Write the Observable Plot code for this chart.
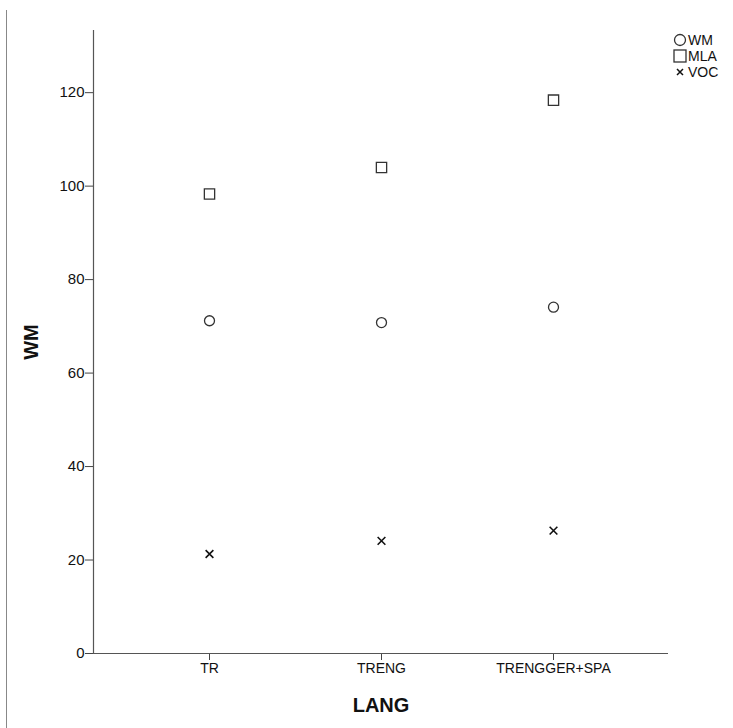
<!DOCTYPE html>
<html>
<head>
<meta charset="utf-8">
<script src="https://cdn.jsdelivr.net/npm/d3@7"></script>
<script src="https://cdn.jsdelivr.net/npm/@observablehq/plot@0.6"></script>
<style>
  html, body { margin: 0; padding: 0; background: #fff; }
  #wrap { position: relative; width: 733px; height: 728px; overflow: hidden; }
  #border { position: absolute; left: 6px; top: 10px; width: 0; height: 718px; border-left: 1px solid #888; }
  #legend { position: absolute; left: 673px; top: 32px; font-family: "Liberation Sans", Arial, sans-serif; font-size: 14px; color: #111; line-height: 16px; }
  #legend div { display: flex; align-items: center; height: 16px; }
  #legend svg { margin-right: 1px; }
</style>
</head>
<body>
<div id="wrap">
  <div id="border"></div>
  <div id="chart"></div>
  <div id="legend"></div>
</div>
<script>
const categories = ["TR", "TRENG", "TRENGGER+SPA"];
const wm  = [71.2, 70.8, 74.1];
const mla = [98.3, 104.0, 118.4];
const voc = [21.3, 24.1, 26.3];
const yTicks = [0, 20, 40, 60, 80, 100, 120];
const seriesNames = ["WM", "MLA", "VOC"];

const rows = (vals) => categories.map((c, i) => ({cat: c, v: vals[i]}));
const font = '"Liberation Sans", Arial, sans-serif';

const chart = Plot.plot({
  width: 733,
  height: 728,
  marginLeft: 93,
  marginRight: 65,
  marginTop: 30,
  marginBottom: 75,
  style: {fontFamily: font, fontSize: "14px", color: "#111", background: "white"},
  x: {type: "point", domain: categories, padding: 0.667, label: null},
  y: {domain: [0, 133.3], label: null},
  marks: [
    Plot.axisX({tickSize: 7, tickPadding: 3, stroke: "#444", fontSize: 14}),
    Plot.axisY({ticks: yTicks, tickSize: 8, tickPadding: 1, stroke: "#444", fontSize: 15}),
    Plot.ruleY([0], {stroke: "#555", strokeWidth: 1.2}),
    Plot.frame({anchor: "left", stroke: "#555", strokeWidth: 1.2}),
    Plot.dot(rows(wm), {x: "cat", y: "v", symbol: "circle", r: 5, stroke: "#333", strokeWidth: 1.3, fill: "none"}),
    Plot.dot(rows(mla), {x: "cat", y: "v", symbol: "square", r: 5.8, stroke: "#333", strokeWidth: 1.3, fill: "none"}),
    Plot.dot(rows(voc), {x: "cat", y: "v", symbol: "times", r: 3.6, stroke: "#111", strokeWidth: 1.6, fill: "none"}),
    Plot.text(["WM"], {frameAnchor: "left", textAnchor: "middle", dx: -62, rotate: -90, text: d => d, fontSize: 20, fontWeight: "bold", fill: "#111"}),
    Plot.text(["LANG"], {frameAnchor: "bottom", dy: 58, text: d => d, fontSize: 20, fontWeight: "bold", fill: "#111"})
  ]
});
document.getElementById("chart").appendChild(chart);

// legend
const legend = document.getElementById("legend");
const shapes = {
  WM: '<circle cx="7" cy="7" r="5.5" fill="none" stroke="#333" stroke-width="1.3"/>',
  MLA: '<rect x="1" y="1" width="12" height="12" fill="none" stroke="#333" stroke-width="1.3"/>',
  VOC: '<path d="M4,4L10,10M10,4L4,10" stroke="#111" stroke-width="1.5"/>'
};
seriesNames.forEach(n => {
  const d = document.createElement("div");
  d.innerHTML = `<svg width="14" height="14">${shapes[n]}</svg><span>${n}</span>`;
  legend.appendChild(d);
});
</script>
</body>
</html>
